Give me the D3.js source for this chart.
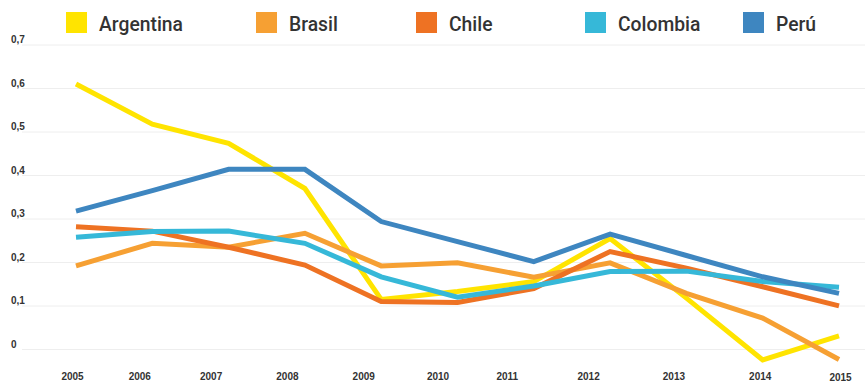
<!DOCTYPE html>
<html>
<head>
<meta charset="utf-8">
<script src="https://cdn.jsdelivr.net/npm/d3@7"></script>
<style>
  html, body { margin: 0; padding: 0; background: #fff; }
  svg { display: block; }
  .legend text { font-family: Roboto, "Liberation Sans", sans-serif; font-size: 21px; font-weight: 500; fill: #333; }
  .axis text { font-family: "Liberation Sans", Arial, sans-serif; font-size: 10px; font-weight: 700; fill: #333; }
</style>
</head>
<body>
<svg id="chart" width="865" height="382"></svg>
<script>
// Years on the horizontal axis
const years = [2005, 2006, 2007, 2008, 2009, 2010, 2011, 2012, 2013, 2014, 2015];

// Series per country
const argentina = [0.609, 0.517, 0.473, 0.369, 0.114, 0.132, 0.155, 0.254, 0.117, -0.025, 0.030];
const brasil    = [0.191, 0.243, 0.234, 0.266, 0.191, 0.198, 0.165, 0.198, 0.128, 0.071, -0.024];
const chile     = [0.281, 0.271, 0.234, 0.193, 0.109, 0.107, 0.139, 0.224, 0.186, 0.143, 0.099];
const colombia  = [0.257, 0.270, 0.271, 0.243, 0.166, 0.119, 0.145, 0.178, 0.179, 0.155, 0.142];
const peru      = [0.317, 0.364, 0.413, 0.413, 0.293, 0.247, 0.201, 0.264, 0.215, 0.166, 0.128];

const countries = ["Argentina", "Brasil", "Chile", "Colombia", "Perú"];
const yTicks = [0, 0.1, 0.2, 0.3, 0.4, 0.5, 0.6, 0.7];

// Styling
const colors = {
  "Argentina": "#FFE400",
  "Brasil": "#F6A033",
  "Chile": "#EE7223",
  "Colombia": "#36B8D8",
  "Perú": "#3E86C0"
};
const legendSquareX = [66, 256, 416, 585, 743];
const yearLabelShift = [-4, -13, -18, -18, -18, -20, -27, -22, -13, -3, 1];

const seriesByName = {
  "Argentina": argentina,
  "Brasil": brasil,
  "Chile": chile,
  "Colombia": colombia,
  "Perú": peru
};

const svg = d3.select("#chart");
const W = 865;

const x = d3.scalePoint().domain(years).range([76, 839]);
const y = d3.scaleLinear().domain([0, 0.7]).range([349, 44.5]);

// Horizontal gridlines with labels sitting just above each line
const yAxis = d3.axisLeft(y)
  .tickValues(yTicks)
  .tickSize(-(W - 22))
  .tickFormat(d => d3.format(".1~f")(d).replace(".", ","));

const gy = svg.append("g")
  .attr("class", "axis")
  .attr("transform", "translate(22,0)")
  .call(yAxis);
gy.select(".domain").remove();
gy.selectAll(".tick line").attr("stroke", "#eeeeee").attr("stroke-width", 1);
gy.selectAll(".tick text")
  .attr("text-anchor", "start")
  .attr("x", -11)
  .attr("dy", null)
  .attr("y", -2);

// Year labels along the bottom
const xAxis = d3.axisBottom(x).tickSize(0).tickFormat(d => String(d));
const gx = svg.append("g")
  .attr("class", "axis")
  .attr("transform", "translate(0,370)")
  .call(xAxis);
gx.select(".domain").remove();
gx.selectAll(".tick text")
  .attr("dy", null)
  .attr("y", d => d === 2015 ? 11 : 10)
  .attr("x", (d, i) => yearLabelShift[i]);

// Country lines
const line = d3.line()
  .x((d, i) => x(years[i]))
  .y(d => y(d));

svg.append("g")
  .selectAll("path")
  .data(countries)
  .join("path")
  .attr("d", name => line(seriesByName[name]))
  .attr("fill", "none")
  .attr("stroke", name => colors[name])
  .attr("stroke-width", 5)
  .attr("stroke-linejoin", "miter");

// Legend
const legend = svg.append("g").attr("class", "legend");
const items = legend.selectAll("g")
  .data(countries)
  .join("g")
  .attr("transform", (d, i) => `translate(${legendSquareX[i]},12)`);
items.append("rect")
  .attr("width", 21)
  .attr("height", 21)
  .attr("fill", d => colors[d]);
items.append("text")
  .attr("transform", "translate(33,19) scale(0.92,1)")
  .text(d => d);
</script>
</body>
</html>
